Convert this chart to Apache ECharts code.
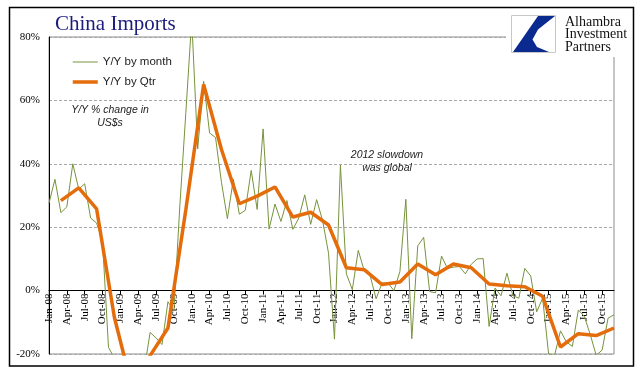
<!DOCTYPE html>
<html>
<head>
<meta charset="utf-8">
<script src="https://cdn.jsdelivr.net/npm/echarts@6/dist/echarts.min.js"></script>
<style>
html,body{margin:0;padding:0;background:#fff;}
#c{width:641px;height:379px;}
</style>
</head>
<body>
<div id="c"></div>
<script>
// ---- data ----
const monthNames = ['Jan','Feb','Mar','Apr','May','Jun','Jul','Aug','Sep','Oct','Nov','Dec'];
const years = ['08','09','10','11','12','13','14','15'];
const monthly = [
  27.6, 35.1, 24.6, 26.4, 40.0, 32.0, 33.7, 22.9, 21.3, 15.6, -17.9, -21.3,
  -43.1, -24.1, -25.1, -23.0, -25.2, -13.2, -14.9, -17.0, -3.5, -6.4, 26.7, 55.9,
  85.5, 44.7, 66.0, 49.7, 48.3, 34.1, 22.7, 35.2, 24.1, 25.3, 37.9, 25.6,
  51.0, 19.4, 27.3, 21.8, 28.4, 19.3, 22.9, 30.2, 20.9, 28.7, 22.1, 11.8,
  -15.3, 39.6, 5.3, 0.3, 12.7, 6.3, 4.7, -2.6, 2.4, 2.4, 0.0, 6.0,
  28.8, -15.2, 14.1, 16.8, -0.3, -0.7, 10.9, 7.0, 7.4, 7.6, 5.3, 8.3,
  10.0, 10.1, -11.3, 0.8, -1.6, 5.5, -1.6, -2.4, 7.0, 4.6, -6.7, -2.4,
  -19.9, -20.5, -12.7, -16.2, -17.6, -6.1, -8.1, -13.8, -20.4, -18.8, -8.7, -7.6
];
// quarterly values, plotted at quarter-end month
const quarterly = [
  28.4, 32.4, 25.8, -8.5,
  -30.8, -20.5, -11.8, 25.4,
  65.0, 44.5, 27.4, 29.8,
  32.7, 23.2, 24.7, 20.7,
  7.2, 6.6, 1.9, 2.7,
  8.4, 5.0, 8.4, 7.2,
  2.1, 1.5, 1.2, -1.8,
  -17.8, -13.6, -14.2, -11.8
];
const yTicks = [-20, 0, 20, 40, 60, 80];

// ---- build ----
const categories = [];
years.forEach(y => monthNames.forEach(m => categories.push(m + '-' + y)));
const qtrSeries = categories.map(() => null);
quarterly.forEach((v, q) => { qtrSeries[q * 3 + 2] = v; });

const gridTop = 37, gridBottom = 25, chartH = 379;
const plotH = chartH - gridTop - gridBottom;
const yMin = yTicks[0], yMax = yTicks[yTicks.length - 1];
// move the x axis (line, ticks and labels) up to the 0% level
const zeroOffset = -plotH * (0 - yMin) / (yMax - yMin);

const chart = echarts.init(document.getElementById('c'), null, {renderer: 'canvas'});
chart.setOption({
  animation: false,
  backgroundColor: '#fff',
  grid: {left: 49, right: 27, top: gridTop, bottom: gridBottom, show: true, borderColor: '#8c8c8c', borderWidth: 1, backgroundColor: 'transparent'},
  legend: {
    orient: 'vertical', left: 71, top: 56, padding: 0,
    itemWidth: 25, itemHeight: 14, itemGap: 8,
    textStyle: {fontFamily: 'Liberation Sans', fontSize: 11.5, color: '#222'},
    data: [
      {name: 'Y/Y by month', itemStyle: {color: 'rgba(0,0,0,0)', borderWidth: 0}, lineStyle: {color: '#77933C', width: 1}},
      {name: 'Y/Y by Qtr', itemStyle: {color: 'rgba(0,0,0,0)', borderWidth: 0}, lineStyle: {color: '#E46C0A', width: 3.5}}
    ]
  },
  xAxis: {
    type: 'category', data: categories, boundaryGap: false,
    position: 'bottom', offset: zeroOffset,
    axisLine: {onZero: false, lineStyle: {color: '#000', width: 1}},
    axisTick: {show: true, interval: 2, length: 4, lineStyle: {color: '#000'}},
    axisLabel: {interval: 2, rotate: 90, margin: 3, fontFamily: 'Liberation Serif', fontSize: 11, color: '#000'},
    splitLine: {show: false}
  },
  yAxis: {
    type: 'value', min: yMin, max: yMax, interval: 20,
    axisLine: {show: true, lineStyle: {color: '#000', width: 1}},
    axisTick: {show: false},
    axisLabel: {formatter: '{value}%', margin: 9, fontFamily: 'Liberation Serif', fontSize: 11, color: '#000'},
    splitLine: {show: true, lineStyle: {color: '#a8a8a8', type: [3, 2], width: 1}}
  },
  series: [
    {
      name: 'Y/Y by month', type: 'line', data: monthly, symbol: 'none', clip: true,
      lineStyle: {color: '#77933C', width: 1}, itemStyle: {color: '#77933C'}, z: 2
    },
    {
      name: 'Y/Y by Qtr', type: 'line', data: qtrSeries, symbol: 'none', connectNulls: true, clip: true,
      lineStyle: {color: '#E46C0A', width: 3.5}, itemStyle: {color: '#E46C0A'}, z: 3
    }
  ],
  graphic: [
    {type: 'rect', silent: true, z: 100, shape: {x: 9.5, y: 7.5, width: 624, height: 358.5},
     style: {fill: 'none', stroke: '#000', lineWidth: 1.5}},
    {type: 'text', z: 100, x: 55, y: 14,
     style: {text: 'China Imports', font: '21px "Liberation Serif"', fill: '#1c1c7c'}},
    {type: 'rect', z: 100, shape: {x: 506, y: 9, width: 126, height: 48}, style: {fill: '#fff', stroke: 'none'}},
    {type: 'rect', z: 101, shape: {x: 511.5, y: 15.5, width: 44, height: 37}, style: {fill: '#fff', stroke: '#c8c8c8', lineWidth: 1}},
    {type: 'polygon', z: 102,
     shape: {points: [[555,16],[538,16],[513,52],[549,52],[537,47],[532.5,39.6],[538,29.4]]},
     style: {fill: '#0b2a8f'}},
    {type: 'text', z: 102, x: 565, y: 16,
     style: {text: 'Alhambra\nInvestment\nPartners', font: '14px "Liberation Serif"', lineHeight: 12.5, fill: '#111'}},
    {type: 'text', z: 100, x: 110, y: 104,
     style: {text: 'Y/Y % change in\nUS$s', font: 'italic 10.5px "Liberation Sans"', lineHeight: 13, fill: '#222', align: 'center'}},
    {type: 'text', z: 100, x: 387, y: 149,
     style: {text: '2012 slowdown\nwas global', font: 'italic 10.5px "Liberation Sans"', lineHeight: 13, fill: '#222', align: 'center'}}
  ]
});
</script>
</body>
</html>
